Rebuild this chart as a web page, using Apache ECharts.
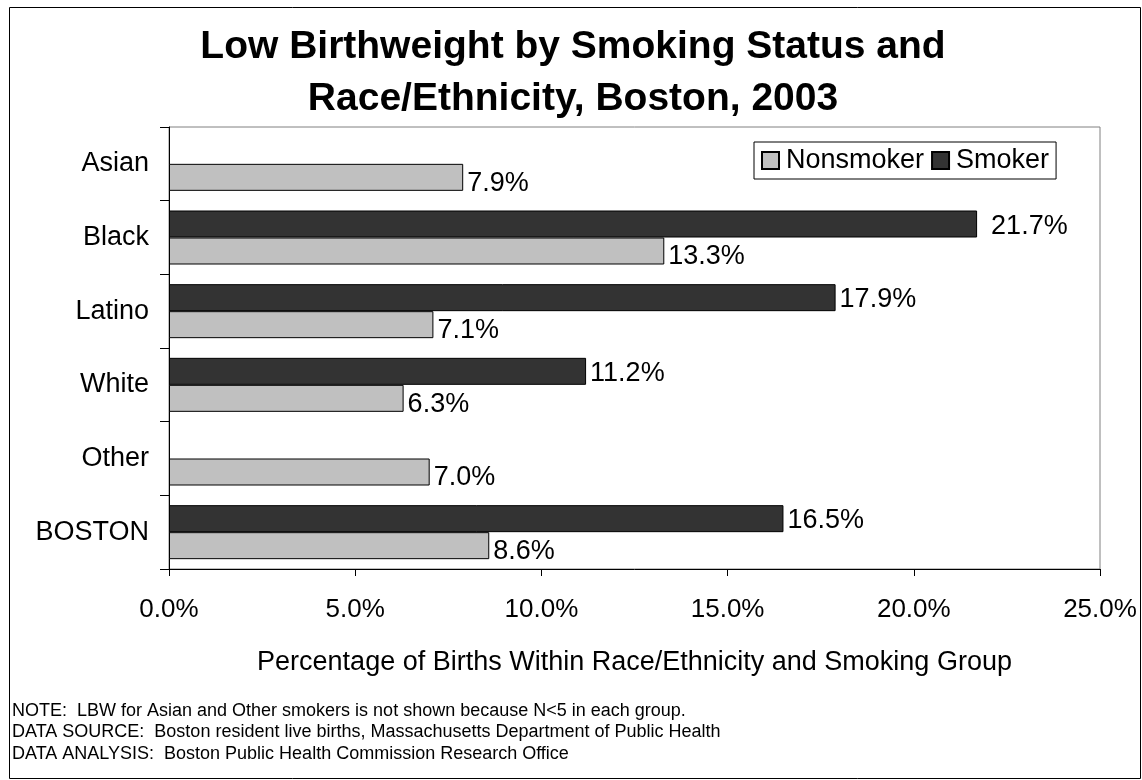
<!DOCTYPE html>
<html>
<head>
<meta charset="utf-8">
<script src="https://cdn.jsdelivr.net/npm/echarts@6/dist/echarts.min.js"></script>
<style>
html, body { margin: 0; padding: 0; background: #fff; }
#chart { width: 1142px; height: 780px; }
</style>
</head>
<body>
<div id="chart"></div>
<script>
// data
const groups = ['Asian', 'Black', 'Latino', 'White', 'Other', 'BOSTON']
const nonsmoker = [7.9, 13.3, 7.1, 6.3, 7.0, 8.6]
const smoker = [null, 21.7, 17.9, 11.2, null, 16.5]
const xTicks = [0, 5, 10, 15, 20, 25]
const notes = [
  'NOTE:  LBW for Asian and Other smokers is not shown because N<5 in each group.',
  'DATA SOURCE:  Boston resident live births, Massachusetts Department of Public Health',
  'DATA ANALYSIS:  Boston Public Health Commission Research Office'
]

const FONT = '"Liberation Sans", Arial, sans-serif'
const pct = v => Number(v).toFixed(1) + '%'

const myChart = echarts.init(document.getElementById('chart'))

const option = {
  animation: false,
  textStyle: { fontFamily: FONT, color: '#000' },
  title: {
    text: 'Low Birthweight by Smoking Status and\nRace/Ethnicity, Boston, 2003',
    left: 568,
    top: 16,
    textAlign: 'center',
    textStyle: {
      fontFamily: FONT,
      fontSize: 39,
      fontWeight: 'bold',
      lineHeight: 52,
      color: '#000'
    }
  },
  legend: {
    data: ['Nonsmoker', 'Smoker'],
    left: 754,
    top: 142,
    icon: 'rect',
    itemWidth: 17,
    itemHeight: 17,
    itemGap: 7,
    padding: [5, 7, 5, 7],
    borderColor: '#000',
    borderWidth: 1,
    backgroundColor: '#fff',
    textStyle: { fontFamily: FONT, fontSize: 27, color: '#000', padding: [2, 0, 0, 2] }
  },
  grid: {
    left: 169,
    right: 42,
    top: 127,
    bottom: 211,
    show: true,
    borderColor: '#808080',
    borderWidth: 1
  },
  xAxis: {
    type: 'value',
    min: xTicks[0],
    max: xTicks[xTicks.length - 1],
    interval: xTicks[1] - xTicks[0],
    splitLine: { show: false },
    axisLine: { show: true, lineStyle: { color: '#000', width: 1 } },
    axisTick: { show: true, length: 7, lineStyle: { color: '#000' } },
    axisLabel: {
      formatter: pct,
      fontFamily: FONT,
      fontSize: 26,
      color: '#000',
      margin: 28
    },
    name: 'Percentage of Births Within Race/Ethnicity and Smoking Group',
    nameLocation: 'middle',
    nameGap: 80,
    nameTextStyle: { fontFamily: FONT, fontSize: 27, color: '#000' }
  },
  yAxis: {
    type: 'category',
    inverse: true,
    data: groups,
    axisLine: { show: true, lineStyle: { color: '#000', width: 1 } },
    axisTick: { show: true, length: 9, lineStyle: { color: '#000' } },
    axisLabel: {
      fontFamily: FONT,
      fontSize: 27,
      color: '#000',
      margin: 20,
      padding: [6, 0, 0, 0]
    }
  },
  series: [
    {
      name: 'Smoker',
      type: 'bar',
      barWidth: 27,
      barGap: '0%',
      data: smoker.map((v, i) => i === 1 ? { value: v, label: { offset: [10, 3] } } : v),
      itemStyle: { color: '#333333', borderColor: '#000', borderWidth: 1 },
      label: {
        show: true,
        position: 'right',
        distance: 4,
        offset: [0, 2],
        formatter: p => pct(p.value),
        fontFamily: FONT,
        fontSize: 27,
        color: '#000'
      }
    },
    {
      name: 'Nonsmoker',
      type: 'bar',
      barWidth: 27,
      barGap: '0%',
      data: nonsmoker,
      itemStyle: { color: '#c0c0c0', borderColor: '#000', borderWidth: 1 },
      label: {
        show: true,
        position: 'right',
        distance: 4,
        offset: [0, 6],
        formatter: p => pct(p.value),
        fontFamily: FONT,
        fontSize: 27,
        color: '#000'
      }
    }
  ],
  graphic: [
    {
      type: 'rect',
      shape: { x: 9.5, y: 7.5, width: 1131, height: 771 },
      style: { fill: 'none', stroke: '#000', lineWidth: 1 },
      silent: true
    },
    {
      type: 'text',
      left: 12,
      top: 700,
      style: {
        text: notes.join('\n'),
        font: '18px ' + FONT,
        lineHeight: 21.5,
        fill: '#000'
      }
    }
  ]
}

myChart.setOption(option)
</script>
</body>
</html>
